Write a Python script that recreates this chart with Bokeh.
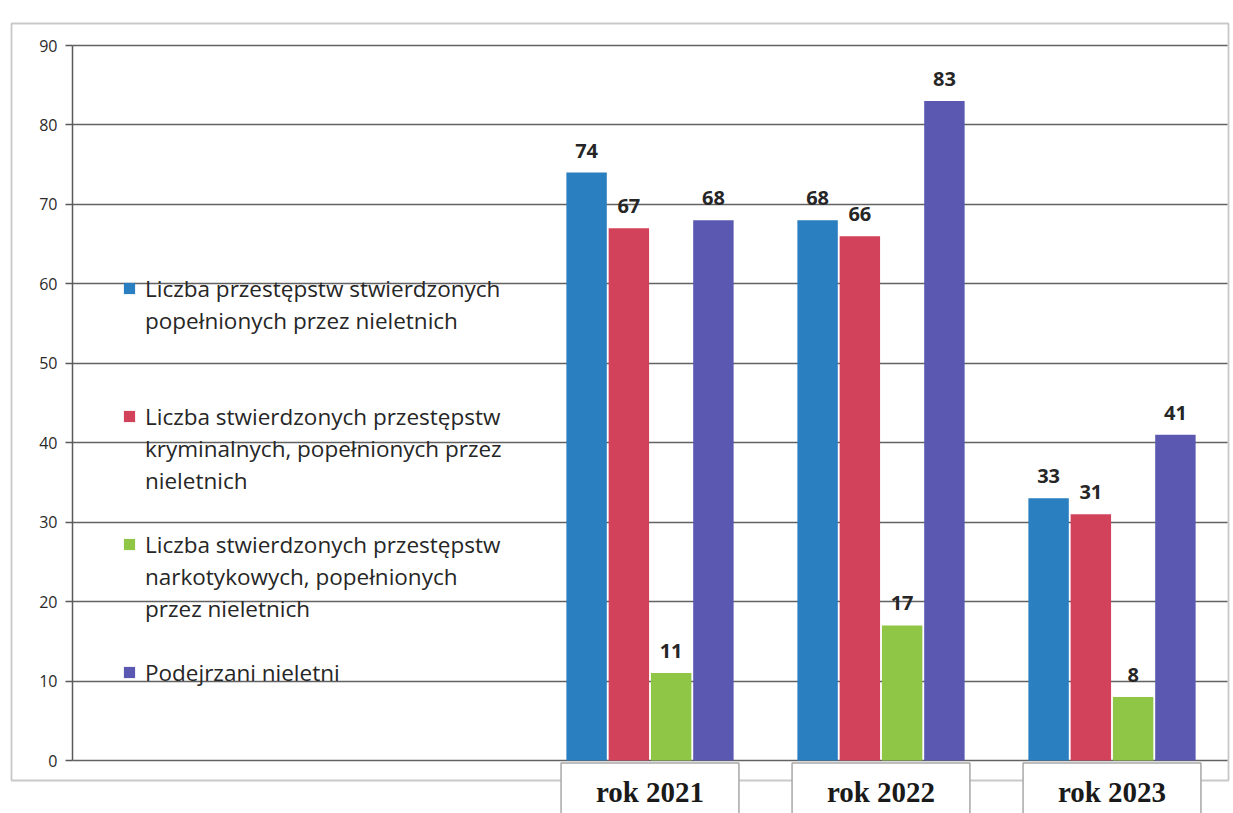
from bokeh.plotting import figure
from bokeh.models import (ColumnDataSource, Legend, LegendItem, LabelSet,
                          BoxAnnotation, FixedTicker, Range1d)
from bokeh.core.properties import value
from bokeh.embed import file_html
from bokeh.resources import INLINE

# ---- data ----
years = ["rok 2021", "rok 2022", "rok 2023"]
series_labels = [
    ["Liczba przestępstw stwierdzonych", "popełnionych przez nieletnich"],
    ["Liczba stwierdzonych przestępstw", "kryminalnych, popełnionych przez", "nieletnich"],
    ["Liczba stwierdzonych przestępstw", "narkotykowych, popełnionych", "przez nieletnich"],
    ["Podejrzani nieletni"],
]
stwierdzone = [74, 68, 33]
kryminalne = [67, 66, 31]
narkotykowe = [11, 17, 8]
podejrzani = [68, 83, 41]
y_ticks = [0, 10, 20, 30, 40, 50, 60, 70, 80, 90]

series_values = [stwierdzone, kryminalne, narkotykowe, podejrzani]
colors = ["#2a7fc1", "#d3425b", "#8fc646", "#5a58b1"]

# ---- layout (pixels) ----
W, H = 1233, 813
plot_left, plot_top, plot_bottom = 72, 45, 760     # pixel position of x=0, y=90, y=0
slot_px = 231                                      # width of one category slot
y_min, y_max = 0, 90
ppu = (plot_bottom - plot_top) / (y_max - y_min)

# 5 category slots, the first two are empty (the legend sits there)
n_slots = 5
first_slot = 2
centers = [first_slot + i + 0.5 for i in range(len(years))]
step = 0.183
bar_w = 0.175
box_w = 0.77

p = figure(width=W, height=H,
           x_range=Range1d(-plot_left / slot_px, (W - plot_left) / slot_px),
           y_range=Range1d(-(H - plot_bottom) / ppu, y_max + plot_top / ppu),
           output_backend="svg", toolbar_location=None, x_axis_location=None,
           min_border=0)
p.background_fill_color = "white"
p.border_fill_color = "white"
p.outline_line_color = None

# outer chart border (drawn below the glyphs)
border = BoxAnnotation(left=11, right=1228, top=23, bottom=780,
                       left_units="canvas", right_units="canvas",
                       top_units="canvas", bottom_units="canvas",
                       fill_alpha=0, line_color="#4a4a4a", line_width=1.8,
                       level="underlay")
p.add_layout(border)

# grid limited to the plot area
p.xgrid.grid_line_color = None
p.ygrid.ticker = FixedTicker(ticks=y_ticks)
p.ygrid.bounds = (y_min, y_max)
p.ygrid.cross_bounds = (0, n_slots)
p.ygrid.grid_line_color = "#626262"
p.ygrid.grid_line_width = 1.4

renderers = []
for k, (vals, col) in enumerate(zip(series_values, colors)):
    off = (k - 1.5) * step
    xs = [c + off for c in centers]
    src = ColumnDataSource(dict(x=xs, top=vals, lbl=[str(v) for v in vals]))
    r = p.vbar(x="x", top="top", bottom=0, width=bar_w, source=src,
               fill_color=col, line_color=None)
    renderers.append(r)
    p.add_layout(LabelSet(x="x", y="top", text="lbl", source=src,
                          y_offset=22, text_align="center", text_baseline="middle",
                          text_font=value("Open Sans"), text_font_style="bold",
                          text_font_size="20px", text_color="#262626"))

# category boxes below the axis
cat_src = ColumnDataSource(dict(x=centers, year=years,
                                left=[c - box_w / 2 for c in centers],
                                right=[c + box_w / 2 for c in centers]))
p.quad(left="left", right="right", top=-0.3, bottom=-20, source=cat_src,
       fill_color="white", line_color="#a8a8a8", line_width=1.5)
p.text(x="x", y=-4.0, text="year", source=cat_src, text_align="center",
       text_baseline="middle", text_font=value("Liberation Serif"),
       text_font_style="bold", text_font_size="29px", text_color="#1a1a1a")

# legend: one row per text line, 4 rows per series
items = []
for k, lines in enumerate(series_labels):
    for j in range(4 if k < len(series_labels) - 1 else len(lines)):
        txt = lines[j] if j < len(lines) else " "
        rs = [renderers[k]] if j == 0 else []
        items.append(LegendItem(label=txt, renderers=rs))
legend = Legend(items=items, location=(122, H - 688), orientation="vertical",
                glyph_width=14, glyph_height=14, label_height=32, spacing=0,
                label_standoff=9, padding=0, margin=0,
                label_text_font="Open Sans", label_text_font_size="22.5px",
                label_text_color="#262626",
                border_line_alpha=0, background_fill_alpha=0)
p.add_layout(legend)

# y axis at the left edge of the plot area
p.yaxis.fixed_location = 0
p.yaxis.bounds = (y_min, y_max)
p.yaxis.ticker = FixedTicker(ticks=y_ticks)
p.yaxis.major_label_text_font = "Open Sans"
p.yaxis.major_label_text_font_size = "16px"
p.yaxis.major_label_text_color = "#2a2a2a"
p.yaxis.major_tick_out = 7
p.yaxis.major_tick_in = 0
p.yaxis.minor_tick_out = 0
p.yaxis.minor_tick_in = 0
p.yaxis.major_label_standoff = 8
p.yaxis.axis_line_color = "#5a5a5a"
p.yaxis.axis_line_width = 1.5
p.yaxis.major_tick_line_color = "#5a5a5a"
p.yaxis.major_tick_line_width = 1.3

open("out.html", "w").write(file_html(p, INLINE))
